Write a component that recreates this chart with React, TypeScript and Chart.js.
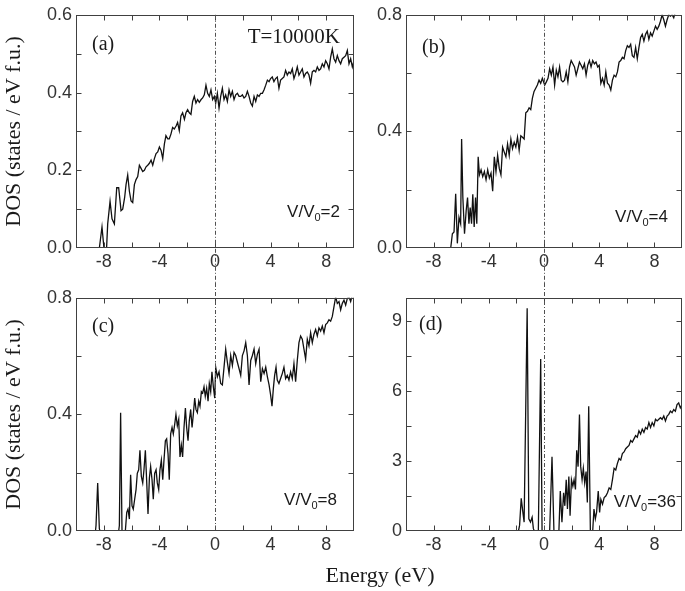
import React, { useEffect, useRef } from "react";
import { Chart, registerables } from "chart.js";
Chart.register(...registerables);

const SERIF = '"Liberation Serif", "Times New Roman", serif';
const SANS = '"Liberation Sans", Arial, sans-serif';

// ---------- Panel (a): V/V0 = 2 ----------
const energyA = [
  -10, -8.32, -8.13, -7.99, -7.8, -7.72,
  -7.55, -7.41, -7.24, -7.07, -6.93, -6.76, -6.64, -6.5, -6.4, -6.28,
  -6.16, -6.04, -5.92, -5.8, -5.68, -5.56, -5.44, -5.32, -5.2, -5.08,
  -4.96, -4.84, -4.72, -4.6, -4.48, -4.36, -4.24, -4.12, -4.0, -3.88,
  -3.76, -3.64, -3.53, -3.4, -3.29, -3.17, -3.05, -2.93, -2.8, -2.69,
  -2.57, -2.45, -2.33, -2.2, -2.09, -1.97, -1.85, -1.73, -1.61, -1.49,
  -1.37, -1.25, -1.13, -1.0, -0.89, -0.77, -0.65, -0.53, -0.41, -0.29,
  -0.17, -0.05,
  0.05, 0.17, 0.29, 0.41, 0.53, 0.65, 0.77, 0.89, 1.01, 1.13,
  1.25, 1.37, 1.49, 1.61, 1.73, 1.85, 1.97, 2.09, 2.21, 2.33,
  2.45, 2.57, 2.69, 2.81, 2.93, 3.05, 3.17, 3.29, 3.41, 3.53,
  3.65, 3.77, 3.89, 4.0, 4.12, 4.24, 4.36, 4.48, 4.6, 4.72,
  4.84, 4.96, 5.08, 5.2, 5.32, 5.44, 5.56, 5.68, 5.8, 5.92,
  6.04, 6.16, 6.28, 6.4, 6.52, 6.64, 6.76, 6.88, 7.0, 7.12,
  7.24, 7.36, 7.48, 7.6, 7.72, 7.84, 7.96, 8.08, 8.2, 8.32,
  8.44, 8.56, 8.68, 8.8, 8.92, 9.04, 9.16, 9.28, 9.4, 9.52,
  9.64, 9.76, 9.88, 10.0,
];
const dosA = [
  0, 0, 0.054, 0, 0, 0.062,
  0.12, 0.075, 0.062, 0.155, 0.155, 0.096, 0.1, 0.13, 0.163, 0.188,
  0.146, 0.121, 0.117, 0.163, 0.176, 0.184, 0.213, 0.205, 0.197, 0.2,
  0.209, 0.213, 0.218, 0.226, 0.213, 0.23, 0.243, 0.247, 0.26, 0.251,
  0.23, 0.268, 0.289, 0.281, 0.281, 0.293, 0.31, 0.306, 0.314, 0.323,
  0.302, 0.34, 0.348, 0.331, 0.348, 0.356, 0.348, 0.344, 0.377, 0.39,
  0.373, 0.382, 0.375, 0.382, 0.386, 0.394, 0.419, 0.398, 0.39, 0.407,
  0.382, 0.39,
  0.373, 0.398, 0.36, 0.39, 0.411, 0.382, 0.394, 0.377, 0.407, 0.39,
  0.403, 0.382, 0.394, 0.398, 0.39, 0.39, 0.394, 0.386, 0.39, 0.403,
  0.39, 0.373, 0.365, 0.39, 0.377, 0.394, 0.39, 0.398, 0.398, 0.407,
  0.419, 0.432, 0.428, 0.436, 0.44, 0.428, 0.436, 0.44, 0.411, 0.432,
  0.436, 0.44, 0.457, 0.445, 0.453, 0.449, 0.461, 0.436, 0.449, 0.466,
  0.445, 0.453, 0.461, 0.44, 0.449, 0.453, 0.445, 0.424, 0.453, 0.457,
  0.453, 0.466, 0.457, 0.461, 0.474, 0.466, 0.482, 0.474, 0.461, 0.491,
  0.512, 0.487, 0.478, 0.495, 0.482, 0.474, 0.487, 0.491, 0.495, 0.508,
  0.474, 0.487, 0.466, 0.482,
];

// ---------- Panel (b): V/V0 = 4 ----------
const energyB = [
  -10, -6.76,
  -6.64, -6.52, -6.4, -6.28, -6.16, -6.04, -5.97, -5.88, -5.76, -5.64,
  -5.54, -5.44, -5.35, -5.25, -5.16, -5.06, -4.96, -4.87, -4.77, -4.68,
  -4.56, -4.44, -4.32, -4.2, -4.08, -3.96, -3.84, -3.72, -3.6, -3.48,
  -3.36, -3.24, -3.12, -3.0, -2.88, -2.76, -2.64, -2.52, -2.4, -2.28,
  -2.16, -2.04, -1.92, -1.8, -1.68, -1.56, -1.44, -1.32, -1.2, -1.08,
  -0.96, -0.84, -0.72, -0.6, -0.48, -0.36, -0.24, -0.12,
  0.05, 0.17, 0.29, 0.41, 0.53, 0.65, 0.77, 0.89, 1.01, 1.13,
  1.25, 1.37, 1.49, 1.61, 1.73, 1.85, 1.97, 2.09, 2.21, 2.33,
  2.45, 2.57, 2.69, 2.81, 2.93, 3.05, 3.17, 3.29, 3.41, 3.53,
  3.65, 3.77, 3.89, 4.0, 4.12, 4.24, 4.36, 4.48, 4.6, 4.72,
  4.84, 4.96, 5.08, 5.2, 5.32, 5.44, 5.56, 5.68, 5.8, 5.92,
  6.04, 6.16, 6.28, 6.4, 6.52, 6.64, 6.76, 6.88, 7.0, 7.12,
  7.24, 7.36, 7.48, 7.6, 7.72, 7.84, 7.96, 8.08, 8.2, 8.32,
  8.44, 8.56, 8.68, 8.8, 8.92, 9.04, 9.16, 9.28, 9.4, 9.52,
  9.64, 9.76, 9.88, 10.0,
];
const dosB = [
  0, 0,
  0.049, 0.055, 0.186, 0.016, 0.105, 0.083, 0.374, 0.173, 0.049, 0.128,
  0.173, 0.083, 0.139, 0.083, 0.184, 0.072, 0.173, 0.083, 0.313, 0.251,
  0.268, 0.245, 0.262, 0.234, 0.268, 0.24, 0.257, 0.195, 0.313, 0.262,
  0.318, 0.273, 0.251, 0.346, 0.329, 0.313, 0.357, 0.318, 0.374, 0.341,
  0.363, 0.346, 0.38, 0.335, 0.385, 0.38, 0.374, 0.464, 0.469, 0.481,
  0.475, 0.514, 0.537, 0.548, 0.559, 0.576, 0.565, 0.582,
  0.559, 0.57, 0.582, 0.615, 0.593, 0.621, 0.559, 0.61, 0.587, 0.621,
  0.576, 0.57, 0.576, 0.604, 0.57, 0.621, 0.643, 0.632, 0.621, 0.593,
  0.615, 0.638, 0.627, 0.615, 0.632, 0.593, 0.627, 0.643, 0.621, 0.643,
  0.632, 0.638, 0.621, 0.627, 0.565, 0.582, 0.559, 0.604, 0.565, 0.559,
  0.542, 0.576, 0.593, 0.587, 0.604, 0.638, 0.643, 0.654, 0.649, 0.677,
  0.694, 0.688, 0.699, 0.66, 0.654, 0.688, 0.649, 0.688, 0.722, 0.733,
  0.71, 0.733, 0.744, 0.716, 0.738, 0.727, 0.744, 0.761, 0.75, 0.761,
  0.778, 0.8, 0.783, 0.761, 0.783, 0.8, 0.795, 0.8, 0.79, 0.81,
  0.82, 0.815, 0.83, 0.84,
];

// ---------- Panel (c): V/V0 = 8 ----------
const energyC = [
  -10, -8.6, -8.56, -8.44, -8.32, -8.27, -6.93, -6.88, -6.79, -6.69, -6.45,
  -6.35, -6.26, -6.16, -6.07, -5.97, -5.88, -5.78, -5.68, -5.59, -5.49,
  -5.4, -5.3, -5.2, -5.11, -5.01, -4.92, -4.82, -4.72, -4.63, -4.53,
  -4.44, -4.34, -4.24, -4.15, -4.05, -3.96, -3.86, -3.76, -3.67, -3.57,
  -3.48, -3.38, -3.29, -3.19, -3.09, -3.0, -2.9, -2.81, -2.71, -2.61,
  -2.52, -2.42, -2.33, -2.23, -2.13, -2.04, -1.94, -1.85, -1.75, -1.65,
  -1.56, -1.46, -1.37, -1.27, -1.17, -1.08, -0.98, -0.89, -0.79, -0.7,
  -0.6, -0.5, -0.41, -0.31, -0.22, -0.12, -0.02,
  0.05, 0.17, 0.29, 0.41, 0.53, 0.65, 0.77, 0.89, 1.01, 1.13,
  1.25, 1.37, 1.49, 1.61, 1.73, 1.85, 1.97, 2.09, 2.21, 2.33,
  2.45, 2.57, 2.69, 2.81, 2.93, 3.05, 3.17, 3.29, 3.41, 3.53,
  3.65, 3.77, 3.89, 4.0, 4.1, 4.2, 4.29, 4.39, 4.48, 4.6,
  4.72, 4.84, 4.96, 5.08, 5.2, 5.32, 5.44, 5.56, 5.68, 5.8,
  5.92, 6.04, 6.16, 6.28, 6.4, 6.52, 6.64, 6.76, 6.88, 7.0,
  7.12, 7.24, 7.36, 7.48, 7.6, 7.72, 7.84, 7.96, 8.08, 8.2,
  8.32, 8.44, 8.56, 8.68, 8.8, 8.92, 9.04, 9.16, 9.28, 9.4,
  9.52, 9.64, 9.76, 9.88, 10.0,
];
const dosC = [
  0, 0, 0.019, 0.165, 0.008, 0, 0, 0.019, 0.406, 0, 0,
  0.064, 0.075, 0.041, 0.193, 0.086, 0.075, 0.109, 0.142, 0.198, 0.21,
  0.277, 0.187, 0.165, 0.21, 0.277, 0.176, 0.058, 0.182, 0.221, 0.176,
  0.109, 0.198, 0.21, 0.165, 0.142, 0.21, 0.243, 0.176, 0.243, 0.31,
  0.316, 0.266, 0.176, 0.333, 0.355, 0.333, 0.366, 0.4, 0.361, 0.383,
  0.254, 0.294, 0.254, 0.355, 0.422, 0.355, 0.31, 0.378, 0.417, 0.355,
  0.4, 0.456, 0.417, 0.406, 0.445, 0.428, 0.478, 0.473, 0.495, 0.462,
  0.49, 0.445, 0.506, 0.478, 0.546, 0.495, 0.456,
  0.562, 0.529, 0.546, 0.506, 0.501, 0.562, 0.624, 0.579, 0.54, 0.602,
  0.568, 0.613, 0.602, 0.579, 0.557, 0.534, 0.602, 0.618, 0.646, 0.602,
  0.501, 0.585, 0.602, 0.624, 0.574, 0.607, 0.624, 0.512, 0.557, 0.54,
  0.562, 0.529, 0.501, 0.467, 0.428, 0.49, 0.534, 0.562, 0.518, 0.506,
  0.523, 0.54, 0.562, 0.523, 0.534, 0.518, 0.546, 0.523, 0.574, 0.512,
  0.585, 0.646, 0.669, 0.658, 0.624, 0.59, 0.658, 0.635, 0.68, 0.646,
  0.675, 0.691, 0.669, 0.697, 0.686, 0.703, 0.68, 0.708, 0.714, 0.725,
  0.72, 0.736, 0.77, 0.803, 0.781, 0.787, 0.759, 0.781, 0.792, 0.775,
  0.798, 0.803, 0.787, 0.81, 0.8,
];

// ---------- Panel (d): V/V0 = 36 ----------
const energyD = [
  -10, -1.85, -1.77, -1.65, -1.53, -1.44, -1.22, -1.1, -0.98, -0.86,
  -0.77, -0.7, -0.41, -0.24, -0.14, 0.41, 0.58, 0.72, 1.08,
  1.18, 1.3, 1.42, 1.51, 1.61, 1.7, 1.8, 1.89, 1.99, 2.09,
  2.18, 2.28, 2.37, 2.47, 2.57, 2.66, 2.76, 2.85, 2.95, 3.05,
  3.14, 3.24, 3.36, 3.53, 3.62, 3.72, 3.81, 3.93, 4.03, 4.12,
  4.24, 4.36, 4.48, 4.6, 4.72, 4.84, 4.96, 5.08, 5.2, 5.32,
  5.44, 5.56, 5.68, 5.8, 5.92, 6.04, 6.16, 6.28, 6.4, 6.52,
  6.64, 6.76, 6.88, 7.0, 7.12, 7.24, 7.36, 7.48, 7.6, 7.72,
  7.84, 7.96, 8.08, 8.2, 8.32, 8.44, 8.56, 8.68, 8.8, 8.92,
  9.04, 9.16, 9.28, 9.4, 9.52, 9.64, 9.76, 9.88, 10.0,
];
const dosD = [
  0, 0, 0.24, 1.4, 0.8, 0.38, 9.55, 0.52, 0.38, 0.59,
  0.1, 0, 0, 7.38, 0, 0, 3.18, 0, 0,
  1.71, 0.38, 1.64, 1.08, 2.2, 0.94, 2.34, 0.66, 2.2, 1.92,
  2.2, 1.78, 3.46, 2.76, 5.0, 2.76, 2.2, 2.69, 2.06, 2.55,
  1.22, 5.35, 0, 0, 0.94, 0.52, 0.8, 1.71, 0.8, 1.36,
  1.15, 1.43, 1.5, 1.64, 1.85, 1.78, 2.2, 2.69, 2.62, 2.9,
  3.11, 3.04, 3.32, 3.39, 3.53, 3.6, 3.67, 3.88, 3.81, 3.95,
  4.09, 4.02, 4.3, 4.16, 4.37, 4.23, 4.44, 4.37, 4.65, 4.44,
  4.65, 4.51, 4.79, 4.72, 4.79, 4.86, 4.79, 4.93, 4.72, 4.93,
  5.0, 5.14, 5.07, 5.21, 5.14, 5.42, 5.49, 5.28, 5.42,
];

// ---------- Axis tick definitions ----------
const energyMin = -10;
const energyMax = 10;
const energyTickStep = 2;
const energyLabelEvery = 2;
const yTitle = "DOS (states / eV f.u.)";
const xTitle = "Energy (eV)";
const temperatureNote = "T=10000K";

type PanelDef = {
  key: string;
  tag: string;
  ratio: string;
  energy: number[];
  dos: number[];
  yMax: number;
  yStep: number;
  yLabelEvery: number;
  decimals: number;
  showYTitle: boolean;
  showTemp: boolean;
  box: { left: number; top: number; width: number; height: number };
  yAxisWidth: number;
  xAxisHeight: number;
  padTop: number;
  padRight: number;
  zeroFromCanvasTop: boolean;
  zeroToCanvasBottom: boolean;
  tagPos: [number, number];
  ratioPos: [number, number];
};

const panels: PanelDef[] = [
  {
    key: "a", tag: "(a)", ratio: "2", energy: energyA, dos: dosA,
    yMax: 0.6, yStep: 0.1, yLabelEvery: 2, decimals: 1,
    showYTitle: true, showTemp: true,
    box: { left: 0, top: 0, width: 360, height: 283 },
    yAxisWidth: 76, xAxisHeight: 35, padTop: 10, padRight: 6,
    zeroFromCanvasTop: false, zeroToCanvasBottom: true,
    tagPos: [16, 30], ratioPos: [14, 31],
  },
  {
    key: "b", tag: "(b)", ratio: "4", energy: energyB, dos: dosB,
    yMax: 0.8, yStep: 0.2, yLabelEvery: 2, decimals: 1,
    showYTitle: false, showTemp: false,
    box: { left: 360, top: 0, width: 325, height: 283 },
    yAxisWidth: 46, xAxisHeight: 35, padTop: 10, padRight: 1,
    zeroFromCanvasTop: false, zeroToCanvasBottom: true,
    tagPos: [16, 33], ratioPos: [14, 26],
  },
  {
    key: "c", tag: "(c)", ratio: "8", energy: energyC, dos: dosC,
    yMax: 0.8, yStep: 0.2, yLabelEvery: 2, decimals: 1,
    showYTitle: true, showTemp: false,
    box: { left: 0, top: 283, width: 360, height: 308 },
    yAxisWidth: 76, xAxisHeight: 60, padTop: 10, padRight: 6,
    zeroFromCanvasTop: true, zeroToCanvasBottom: false,
    tagPos: [16, 29], ratioPos: [17, 26],
  },
  {
    key: "d", tag: "(d)", ratio: "36", energy: energyD, dos: dosD,
    yMax: 10, yStep: 1.5, yLabelEvery: 2, decimals: 0,
    showYTitle: false, showTemp: false,
    box: { left: 360, top: 283, width: 325, height: 308 },
    yAxisWidth: 46, xAxisHeight: 60, padTop: 10, padRight: 1,
    zeroFromCanvasTop: true, zeroToCanvasBottom: false,
    tagPos: [13, 27], ratioPos: [6, 24],
  },
];

const framePlugin = {
  id: "dosFrame",
  afterDraw(chart: any) {
    const p: PanelDef = chart.options.plugins.dosFrame.panel;
    const { ctx, chartArea: a, scales } = chart;
    const x = scales.x;
    const y = scales.y;
    const L = Math.round(a.left) + 0.5;
    const R = Math.round(a.right) - 0.5;
    const T = Math.round(a.top) + 0.5;
    const B = Math.round(a.bottom) - 0.5;
    const tl = 5;
    ctx.save();
    ctx.strokeStyle = "#404040";
    ctx.lineWidth = 1;
    ctx.beginPath();
    for (const t of x.ticks) {
      if (t.value <= x.min + 1e-9 || t.value >= x.max - 1e-9) continue;
      const px = Math.round(x.getPixelForValue(t.value)) + 0.5;
      ctx.moveTo(px, B); ctx.lineTo(px, B - tl);
      ctx.moveTo(px, T); ctx.lineTo(px, T + tl);
    }
    for (const t of y.ticks) {
      if (t.value <= y.min + 1e-9 || t.value >= y.max - 1e-9) continue;
      const py = Math.round(y.getPixelForValue(t.value)) + 0.5;
      ctx.moveTo(L, py); ctx.lineTo(L + tl, py);
      ctx.moveTo(R, py); ctx.lineTo(R - tl, py);
    }
    ctx.stroke();
    ctx.strokeRect(L, T, R - L, B - T);

    // dash-dot Fermi level line
    const zx = Math.round(x.getPixelForValue(0)) + 0.5;
    ctx.strokeStyle = "#505050";
    ctx.setLineDash([4, 2, 1, 2]);
    ctx.beginPath();
    ctx.moveTo(zx, p.zeroFromCanvasTop ? 0 : a.top);
    ctx.lineTo(zx, p.zeroToCanvasBottom ? chart.height : a.bottom);
    ctx.stroke();
    ctx.setLineDash([]);

    // panel tag
    ctx.fillStyle = "#1a1a1a";
    ctx.textBaseline = "middle";
    ctx.textAlign = "left";
    ctx.font = `20px ${SERIF}`;
    ctx.fillText(p.tag, a.left + p.tagPos[0], a.top + p.tagPos[1]);

    if (p.showTemp) {
      ctx.textAlign = "right";
      ctx.font = `21px ${SERIF}`;
      ctx.fillText(temperatureNote, a.right - 14, a.top + 23);
    }

    // V/V0 = n
    ctx.textBaseline = "alphabetic";
    ctx.textAlign = "left";
    const big = `17px ${SANS}`;
    const small = `11px ${SANS}`;
    const s1 = "V/V";
    const s2 = "0";
    const s3 = "=" + p.ratio;
    ctx.font = big;
    const w1 = ctx.measureText(s1).width;
    const w3 = ctx.measureText(s3).width;
    ctx.font = small;
    const w2 = ctx.measureText(s2).width;
    const baseY = a.bottom - p.ratioPos[1];
    let cx = a.right - p.ratioPos[0] - (w1 + w2 + w3);
    ctx.font = big;
    ctx.fillText(s1, cx, baseY);
    cx += w1;
    ctx.font = small;
    ctx.fillText(s2, cx, baseY + 4);
    cx += w2;
    ctx.font = big;
    ctx.fillText(s3, cx, baseY);
    ctx.restore();
  },
};

function DosPanel({ p }: { p: PanelDef }) {
  const ref = useRef<HTMLCanvasElement | null>(null);
  useEffect(() => {
    if (!ref.current) return;
    const points = p.energy.map((e, i) => ({ x: e, y: p.dos[i] }));
    const chart = new Chart(ref.current, {
      type: "line",
      data: {
        datasets: [
          {
            data: points,
            borderColor: "#111111",
            borderWidth: 1.3,
            pointRadius: 0,
            tension: 0,
            fill: false,
          },
        ],
      },
      options: {
        animation: false,
        responsive: false,
        devicePixelRatio: 1,
        events: [],
        layout: { padding: { top: p.padTop, right: p.padRight, left: 0, bottom: 0 } },
        plugins: {
          legend: { display: false },
          tooltip: { enabled: false },
          dosFrame: { panel: p },
        } as any,
        scales: {
          x: {
            type: "linear",
            min: energyMin,
            max: energyMax,
            grid: { display: false, drawTicks: false },
            border: { display: false },
            afterFit: (s: any) => { s.height = p.xAxisHeight; },
            ticks: {
              stepSize: energyTickStep,
              autoSkip: false,
              maxRotation: 0,
              padding: 3,
              color: "#333333",
              font: { family: SANS, size: 18 },
              callback: (v: any) => {
                const k = Math.round(Number(v) / energyTickStep);
                return k % energyLabelEvery === 0 && Math.abs(Number(v)) < energyMax ? String(Math.round(Number(v))) : "";
              },
            },
          },
          y: {
            type: "linear",
            min: 0,
            max: p.yMax,
            grid: { display: false, drawTicks: false },
            border: { display: false },
            afterFit: (s: any) => { s.width = p.yAxisWidth; },
            title: {
              display: p.showYTitle,
              text: yTitle,
              color: "#1a1a1a",
              font: { family: SERIF, size: 22 },
              padding: { top: 1, bottom: 0 },
            },
            ticks: {
              stepSize: p.yStep,
              autoSkip: false,
              padding: 4,
              color: "#333333",
              font: { family: SANS, size: 18 },
              callback: (v: any) => {
                const n = Number(v);
                const k = Math.round(n / p.yStep);
                if (Math.abs(k * p.yStep - n) > 1e-6) return "";
                return k % p.yLabelEvery === 0 ? n.toFixed(p.decimals) : "";
              },
            },
          },
        },
      },
      plugins: [framePlugin as any],
    });
    return () => chart.destroy();
  }, [p]);
  return (
    <canvas
      ref={ref}
      width={p.box.width}
      height={p.box.height}
      style={{
        position: "absolute",
        left: p.box.left,
        top: p.box.top,
        width: p.box.width,
        height: p.box.height,
        display: "block",
      }}
    />
  );
}

export default function App() {
  return (
    <div
      style={{
        position: "absolute",
        left: 0,
        top: 0,
        width: 685,
        height: 591,
        background: "#ffffff",
        overflow: "hidden",
      }}
    >
      {panels.map((p) => (
        <DosPanel key={p.key} p={p} />
      ))}
      <div
        style={{
          position: "absolute",
          left: 0,
          width: 760,
          top: 562,
          textAlign: "center",
          fontFamily: SERIF,
          fontSize: 22,
          color: "#1a1a1a",
          lineHeight: "26px",
        }}
      >
        {xTitle}
      </div>
    </div>
  );
}
